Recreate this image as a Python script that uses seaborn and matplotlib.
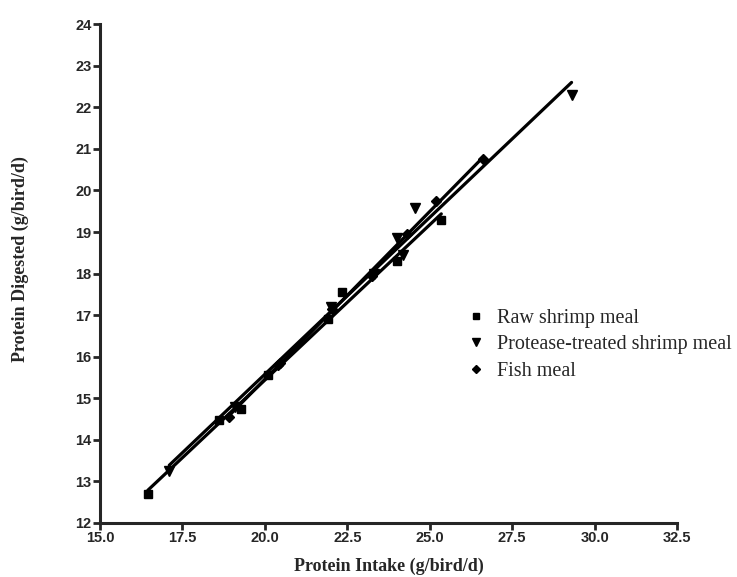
import matplotlib
matplotlib.use("Agg")
import matplotlib.pyplot as plt
import seaborn as sns
import pandas as pd
from matplotlib.lines import Line2D

# values
raw_intake = [16.45, 18.6, 19.28, 20.1, 21.9, 22.35, 24.0, 25.35]
raw_digested = [12.69, 14.48, 14.74, 15.56, 16.9, 17.55, 18.3, 19.3]

protease_intake = [17.1, 19.1, 22.0, 23.3, 24.0, 24.2, 24.55, 29.3]
protease_digested = [13.24, 14.8, 17.2, 18.0, 18.85, 18.45, 19.57, 22.3]

fish_intake = [18.9, 20.4, 20.47, 22.05, 23.25, 24.3, 25.2, 26.6]
fish_digested = [14.56, 15.8, 15.85, 17.15, 17.95, 18.95, 19.75, 20.75]

groups = ['Raw shrimp meal', 'Protease-treated shrimp meal', 'Fish meal']
x_ticks = [15.0, 17.5, 20.0, 22.5, 25.0, 27.5, 30.0, 32.5]
y_ticks = list(range(12, 25))

df = pd.concat([
    pd.DataFrame({'intake': raw_intake, 'digested': raw_digested, 'diet': groups[0]}),
    pd.DataFrame({'intake': protease_intake, 'digested': protease_digested, 'diet': groups[1]}),
    pd.DataFrame({'intake': fish_intake, 'digested': fish_digested, 'diet': groups[2]}),
])

sns.set_style('ticks')
plt.rcParams['font.family'] = ['Liberation Sans', 'DejaVu Sans']

fig = plt.figure(figsize=(7.37, 5.77), dpi=100)
ax = fig.add_axes([0.1357, 0.0936, 0.783, 0.8644])

markers = {groups[0]: 's', groups[1]: 'v', groups[2]: 'D'}
sizes = {groups[0]: 6, groups[1]: 6.5, groups[2]: 5}

for g in groups:
    sub = df[df['diet'] == g]
    # linear fit per diet, drawn over the range of its own points
    sns.regplot(x='intake', y='digested', data=sub, ax=ax, ci=None, scatter=False,
                truncate=True, line_kws={'color': 'black', 'lw': 2.3})
    ax.plot(sub['intake'], sub['digested'], ls='none', marker=markers[g],
            ms=sizes[g], color='black', mec='black')

ax.set_xlim(15, 32.5)
ax.set_ylim(12, 24)
ax.set_xticks(x_ticks)
ax.set_xticklabels([f'{t:.1f}' for t in x_ticks])
ax.set_yticks(y_ticks)
ax.tick_params(width=2, length=5, labelsize=10.5, pad=1)
for lab in ax.get_xticklabels() + ax.get_yticklabels():
    lab.set_fontweight('bold')
ax.spines['left'].set_linewidth(2.2)
ax.spines['bottom'].set_linewidth(2.2)
sns.despine(ax=ax)

ax.set_xlabel('Protein Intake (g/bird/d)', family='Liberation Serif', fontweight='bold',
              fontsize=13, labelpad=9)
ax.set_ylabel('Protein Digested (g/bird/d)', family='Liberation Serif', fontweight='bold',
              fontsize=13)
ax.yaxis.set_label_coords(-0.123, 0.53)

handles = [Line2D([], [], ls='none', marker=markers[g], ms=sizes[g] * 0.8, color='black')
           for g in groups]
ax.legend(handles, groups, frameon=False, loc='upper left', bbox_to_anchor=(0.60, 0.465),
          prop={'family': 'Liberation Serif', 'size': 14.5}, handletextpad=0.4,
          labelspacing=0.35, handlelength=1.2)

fig.savefig('out.png', dpi=100)
